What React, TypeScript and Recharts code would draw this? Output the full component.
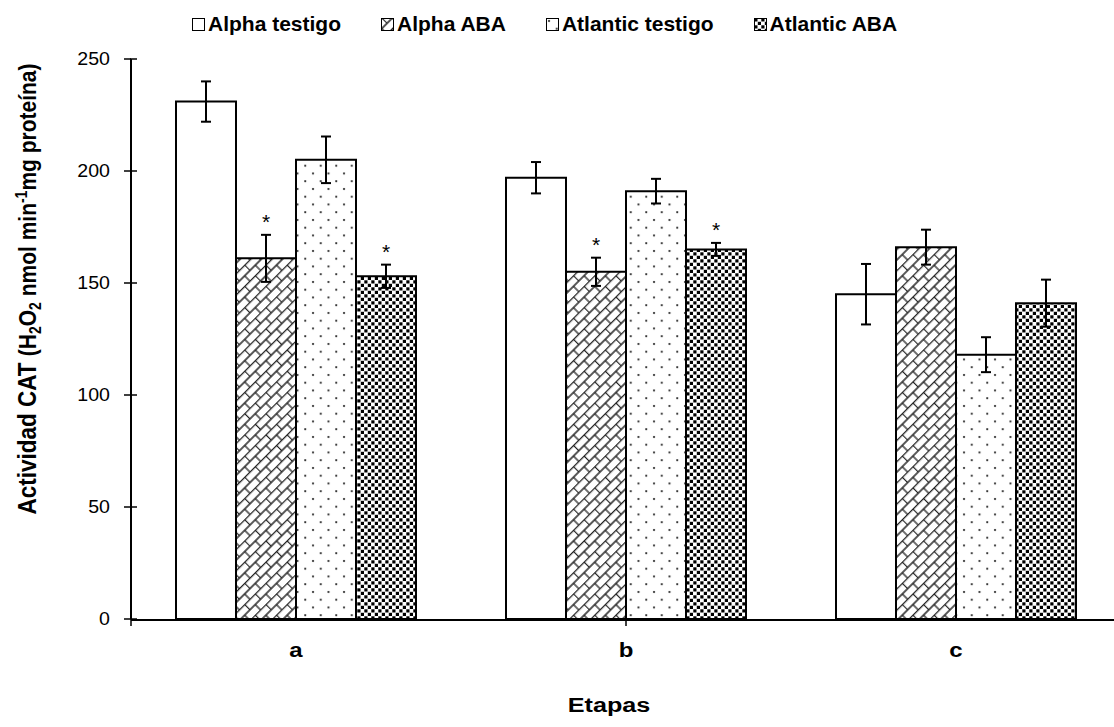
import React from "react";
import {
  BarChart,
  Bar,
  XAxis,
  YAxis,
  ErrorBar,
  LabelList,
  Legend,
} from "recharts";

const etapas = ["a", "b", "c"];
const alphaTestigo = [231, 197, 145];
const alphaTestigoErr = [9, 7, 13.5];
const alphaABA = [161, 155, 166];
const alphaABAErr = [10.5, 6.3, 7.8];
const atlanticTestigo = [205, 191, 118];
const atlanticTestigoErr = [10.4, 5.5, 7.8];
const atlanticABA = [153, 165, 141];
const atlanticABAErr = [5.2, 2.9, 10.5];
const alphaABAStar = [true, true, false];
const atlanticABAStar = [true, true, false];
const yTicks = [0, 50, 100, 150, 200, 250];
const edgeTicks = [0, 1, 2, 3];

const data = etapas.map((etapa, i) => ({
  etapa,
  alphaTestigo: alphaTestigo[i],
  alphaTestigoErr: alphaTestigoErr[i],
  alphaABA: alphaABA[i],
  alphaABAErr: alphaABAErr[i],
  atlanticTestigo: atlanticTestigo[i],
  atlanticTestigoErr: atlanticTestigoErr[i],
  atlanticABA: atlanticABA[i],
  atlanticABAErr: atlanticABAErr[i],
}));

const FONT = '"Liberation Sans", Arial, sans-serif';
const SX = 1.12; // the source picture is a bit wider than its fonts

const series = [
  { key: "alphaTestigo", name: "Alpha testigo", fill: "#ffffff" },
  { key: "alphaABA", name: "Alpha ABA", fill: "url(#brick)" },
  { key: "atlanticTestigo", name: "Atlantic testigo", fill: "url(#dots)" },
  { key: "atlanticABA", name: "Atlantic ABA", fill: "url(#squares)" },
];

// y ticks cross the axis line, so the inner half is drawn here
const YTick = (props: any) => {
  const { x, y, payload } = props;
  return (
    <g>
      <line x1={x + 20} x2={x + 27} y1={y} y2={y} stroke="#000" strokeWidth={1.5} />
      <g transform={`translate(${x},${y}) scale(${SX},1)`}>
        <text
          x={0}
          y={0}
          dy="0.36em"
          textAnchor="end"
          fontFamily={FONT}
          fontSize={17.5}
          fill="#000"
        >
          {payload.value}
        </text>
      </g>
    </g>
  );
};

const NoTick = () => <g />;

const XTick = (props: any) => {
  const { x, y, payload } = props;
  return (
    <g transform={`translate(${x},${y}) scale(1.2,1)`}>
      <text
        x={0}
        y={0}
        dy="0.71em"
        textAnchor="middle"
        fontFamily={FONT}
        fontWeight="bold"
        fontSize={20}
        fill="#000"
      >
        {payload.value}
      </text>
    </g>
  );
};

const YLabel = (props: any) => {
  const { viewBox } = props;
  const cx = 30;
  const cy = viewBox.y + viewBox.height / 2 - 50;
  return (
    <g transform={`translate(${cx},${cy}) scale(${SX},1) rotate(-90)`}>
      <text
        x={0}
        y={0}
        dy="0.36em"
        textAnchor="middle"
        fontFamily={FONT}
        fontWeight="bold"
        fill="#000"
      >
        <tspan fontSize={22.5}>Actividad CAT </tspan>
        <tspan fontSize={21}>(H</tspan>
        <tspan fontSize={14} dy={4}>2</tspan>
        <tspan fontSize={21} dy={-4}>O</tspan>
        <tspan fontSize={14} dy={4}>2</tspan>
        <tspan fontSize={21} dy={-4}> nmol min</tspan>
        <tspan fontSize={14} dy={-8}>-1</tspan>
        <tspan fontSize={21} dy={8}>mg proteína)</tspan>
      </text>
    </g>
  );
};

const XLabel = (props: any) => {
  const { viewBox } = props;
  const cx = viewBox.x + viewBox.width / 2 - 17;
  return (
    <g transform={`translate(${cx},712) scale(1.2,1)`}>
      <text
        x={0}
        y={0}
        textAnchor="middle"
        fontFamily={FONT}
        fontWeight="bold"
        fontSize={21}
        fill="#000"
      >
        Etapas
      </text>
    </g>
  );
};

const makeStar = (errs: number[], stars: boolean[]) => (props: any) => {
  const { x, y, width, height, value, index } = props;
  if (!stars[index]) return null;
  const errTop = y - (errs[index] * height) / value;
  return (
    <text
      x={x + width / 2}
      y={errTop - 6}
      textAnchor="middle"
      fontFamily={FONT}
      fontSize={21}
      fill="#000"
    >
      *
    </text>
  );
};

const Swatch = ({ fill }: { fill: string }) => (
  <svg width={13} height={13} style={{ display: "block" }}>
    <rect x={0.5} y={0.5} width={12} height={12} fill={fill} stroke="#000" strokeWidth={1} />
  </svg>
);

const renderLegend = () => (
  <div
    style={{
      display: "flex",
      alignItems: "center",
      gap: 40,
      paddingLeft: 192,
      paddingTop: 3,
      height: 30,
    }}
  >
    {series.map((s) => (
      <div
        key={s.key}
        style={{ display: "flex", alignItems: "center", whiteSpace: "nowrap" }}
      >
        <Swatch fill={s.fill} />
        <span
          style={{
            marginLeft: 3,
            fontFamily: FONT,
            fontWeight: "bold",
            fontSize: 21,
            lineHeight: "24px",
          }}
        >
          {s.name}
        </span>
      </div>
    ))}
  </div>
);

export default function App() {
  return (
    <div
      style={{
        position: "fixed",
        left: 0,
        top: 0,
        width: 1114,
        height: 727,
        overflow: "hidden",
        background: "#fff",
      }}
    >
      <BarChart
        width={1130}
        height={727}
        data={data}
        margin={{ top: 59, right: 9, left: 0, bottom: 106 }}
        barGap={0}
        barSize={60}
      >
        <defs>
          <pattern
            id="brick"
            width={15}
            height={15}
            patternUnits="userSpaceOnUse"
            patternTransform="rotate(-45)"
          >
            <rect width={15} height={15} fill="#fff" />
            <path
              d="M0 0.5H15M0 8H15M0.5 0.5V8M8 8V15.5"
              stroke="#222"
              strokeWidth={1.3}
              fill="none"
            />
          </pattern>
          <pattern id="dots" width={15.5} height={15.5} patternUnits="userSpaceOnUse">
            <rect width={15.5} height={15.5} fill="#fff" />
            <circle cx={3} cy={3} r={1.1} fill="#222" />
            <circle cx={10.75} cy={10.75} r={1.1} fill="#222" />
          </pattern>
          <pattern id="squares" width={7} height={7} patternUnits="userSpaceOnUse">
            <rect width={7} height={7} fill="#fff" />
            <rect x={0.3} y={0.3} width={3.2} height={3.2} fill="#000" />
            <rect x={3.8} y={3.8} width={3.2} height={3.2} fill="#000" />
          </pattern>
        </defs>
        <XAxis
          xAxisId="edges"
          type="number"
          domain={[0, 3]}
          ticks={edgeTicks}
          allowDataOverflow
          height={1}
          tick={<NoTick />}
          tickSize={6}
          axisLine={{ stroke: "#000", strokeWidth: 2 }}
          tickLine={{ stroke: "#000", strokeWidth: 1.5 }}
        />
        <XAxis
          xAxisId="cat"
          dataKey="etapa"
          height={1}
          axisLine={false}
          tickLine={false}
          tickSize={0}
          tickMargin={24}
          tick={<XTick />}
          label={<XLabel />}
        />
        <YAxis
          domain={[0, 250]}
          ticks={yTicks}
          width={131}
          tickSize={7}
          tickMargin={14}
          tick={<YTick />}
          axisLine={{ stroke: "#000", strokeWidth: 2 }}
          tickLine={{ stroke: "#000", strokeWidth: 1.5 }}
          label={<YLabel />}
        />
        <Legend
          layout="horizontal"
          verticalAlign="middle"
          align="center"
          content={renderLegend}
          wrapperStyle={{ top: 6, left: 0, width: 1114 }}
        />
        {series.map((s) => (
          <Bar
            key={s.key}
            xAxisId="cat"
            dataKey={s.key}
            name={s.name}
            fill={s.fill}
            stroke="#000"
            strokeWidth={2}
            isAnimationActive={false}
          >
            <ErrorBar
              dataKey={`${s.key}Err`}
              width={5}
              stroke="#000"
              strokeWidth={2}
              direction="y"
            />
            {s.key === "alphaABA" && (
              <LabelList
                dataKey={s.key}
                content={makeStar(alphaABAErr, alphaABAStar)}
              />
            )}
            {s.key === "atlanticABA" && (
              <LabelList
                dataKey={s.key}
                content={makeStar(atlanticABAErr, atlanticABAStar)}
              />
            )}
          </Bar>
        ))}
      </BarChart>
    </div>
  );
}
